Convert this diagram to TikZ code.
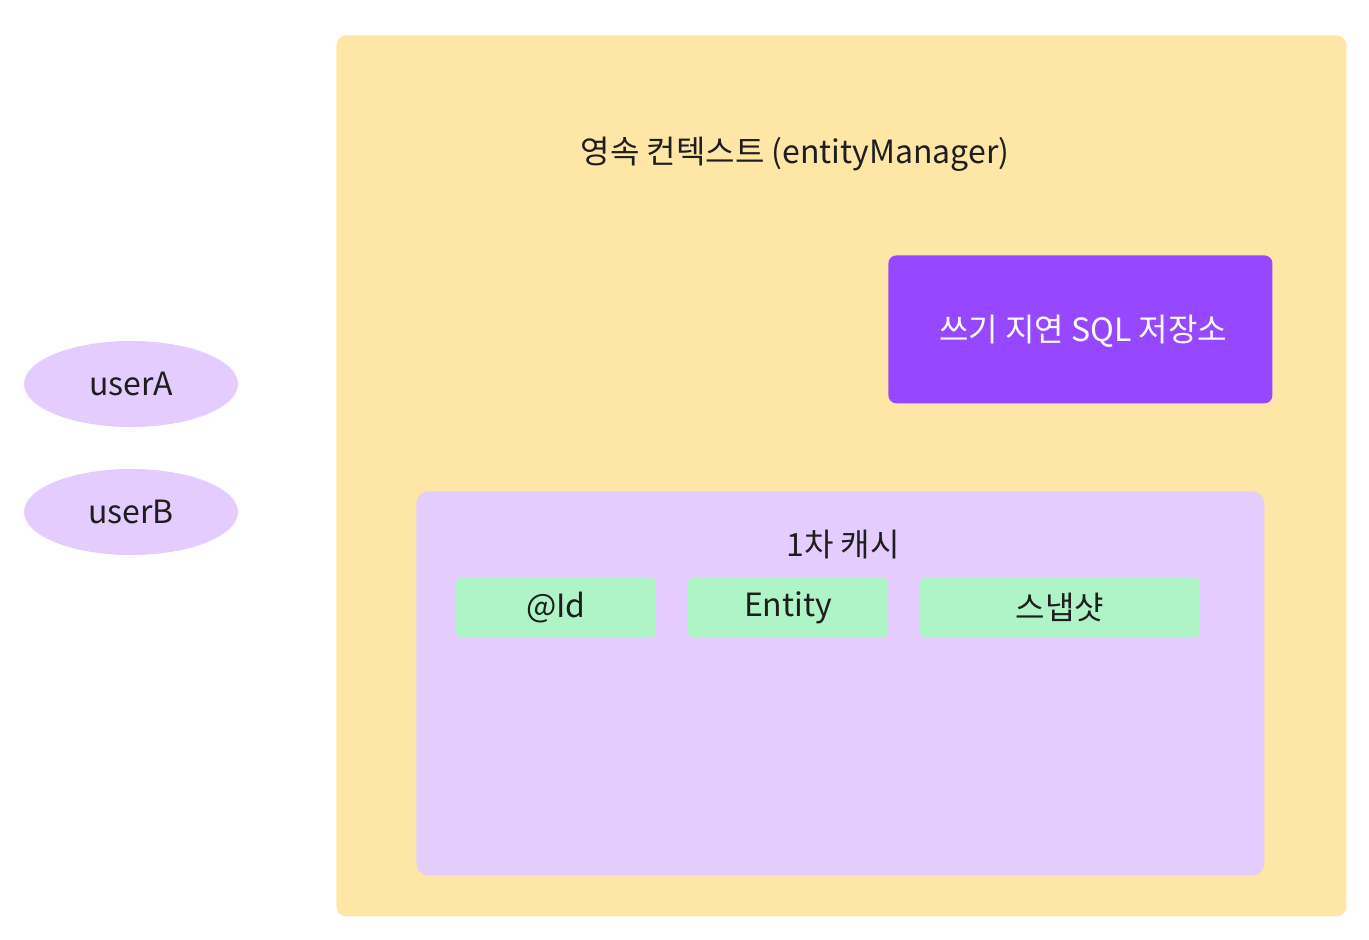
\documentclass[tikz,border=0pt]{standalone}
\usepackage{fontspec}
\setmainfont{Noto Sans CJK KR}
\usepackage{tikz}
\usetikzlibrary{positioning, shapes.geometric}

\definecolor{ctxyellow}{HTML}{FEE6A6}
\definecolor{lavender}{HTML}{E4CCFF}
\definecolor{sqlpurple}{HTML}{9747FF}
\definecolor{mintgreen}{HTML}{AFF4C6}
\definecolor{inkdark}{HTML}{1E1E1E}

\tikzset{
	area/.style={rounded corners=5pt, inner sep=0pt, anchor=north west},
	cell/.style={fill=mintgreen, rounded corners=2pt, minimum width=100pt, minimum height=29.5pt, inner sep=0pt, text=inkdark, font=\fontsize{16}{19}\selectfont},
	user/.style={ellipse, fill=lavender, minimum width=107pt, minimum height=43pt, inner sep=0pt, text=inkdark, font=\fontsize{16}{19}\selectfont},
	label/.style={text=inkdark, font=\fontsize{16}{19}\selectfont}
}

\begin{document}
\begin{tikzpicture}[x=0.5pt, y=-0.5pt]
	\useasboundingbox (0,0) rectangle (1369,940);
	% 영속 컨텍스트
	\node[area, fill=ctxyellow, minimum width=505pt, minimum height=440.5pt] (ctx) at (336,35) {};
	\node[label] (title) at (795,154) {영속 컨텍스트 (entityManager)};
	% 쓰기 지연 SQL 저장소
	\node[area, fill=sqlpurple, minimum width=192pt, minimum height=74pt, rounded corners=4pt] (sql) at (888,255) {};
	\node[label, text=white] (sqltext) at (1083,331) {쓰기 지연 SQL 저장소};
	% 1차 캐시
	\node[area, fill=lavender, minimum width=424pt, minimum height=192pt, rounded corners=6pt] (cache) at (416,491) {};
	\node[label] (cachetitle) at (843,545) {1차 캐시};
	\node[cell] (id) at (556,607.5) {\raisebox{-1pt}{@Id}};
	\node[cell] (entity) at (788,607.5) {\raisebox{-1pt}{Entity}};
	\node[cell, minimum width=140pt] (snap) at (1060,607.5) {\raisebox{-1pt}{스냅샷}};
	% 사용자
	\node[user] (userA) at (131,384) {\raisebox{-1pt}{userA}};
	\node[user] (userB) at (131,512) {\raisebox{-1pt}{userB}};
\end{tikzpicture}
\end{document}
